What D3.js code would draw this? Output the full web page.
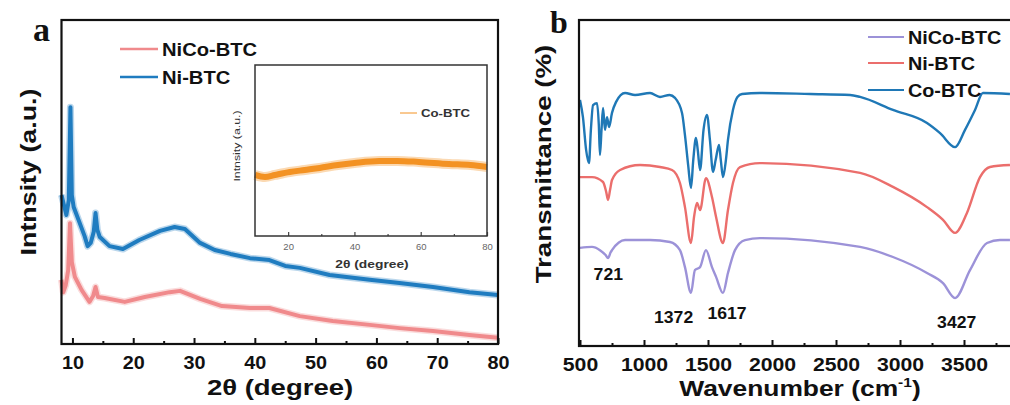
<!DOCTYPE html>
<html><head><meta charset="utf-8">
<script src="https://cdn.jsdelivr.net/npm/d3@7"></script>
<style>
html,body{margin:0;padding:0;background:#fff;}
svg{display:block;}
</style></head>
<body>
<svg id="c" width="1010" height="405" style="font-family:'Liberation Sans',Arial,sans-serif"></svg>
<script>
// ---------- Panel a : XRD ----------
const xrdTicks = [10,20,30,40,50,60,70,80];
const xrdMinor = [15,25,35,45,55,65,75];
const niBTC_xrd = [[8.2,46.0],[8.6,42.9],[9.0,39.8],[9.4,44.4],[9.67,73.1],[9.9,46.0],[10.2,42.3],[11.2,37.3],[12.0,33.3],[12.5,30.2],[13.0,31.2],[13.5,34.6],[13.8,40.4],[14.1,35.2],[14.5,33.0],[16.1,30.2],[18.3,29.3],[21.0,32.1],[24.4,34.9],[26.8,36.1],[28.5,35.5],[31.0,31.2],[33.4,29.0],[36,27.8],[39.2,26.5],[42.4,25.9],[45,24.1],[47.4,23.5],[52.3,21.3],[58.9,19.8],[63.8,18.8],[69.3,17.6],[75.3,16.0],[80,15.1]];
const niCoBTC_xrd = [[8.2,19.8],[8.5,16.0],[8.9,18.2],[9.3,22.8],[9.6,37.3],[9.9,25.3],[10.4,20.7],[11.5,16.7],[12.8,13.0],[13.4,14.8],[13.8,17.6],[14.2,14.5],[15.3,14.2],[18.6,13.0],[21.9,14.5],[26.0,16.0],[27.7,16.4],[31.0,13.9],[34.6,11.7],[39.2,11.1],[42.4,11.1],[47.4,8.6],[52.8,7.1],[58.9,5.9],[63.8,4.9],[69.3,4.0],[75.3,2.8],[80,1.9]];
// inset
const insetTicks = [20,40,60,80];
const insetMinor = [30,50,70];
const coBTC_xrd = [[10,35.7],[13,34.5],[16,35.7],[20.5,37.4],[25,38.6],[29.5,39.8],[35,41.5],[40,42.7],[47.5,43.9],[53,43.9],[59.5,43.3],[68.5,42.1],[75,41.5],[80,40.4]];

// ---------- Panel b : FTIR ----------
const irTicks = [500,1000,1500,2000,2500,3000,3500];
const irMinor = [750,1250,1750,2250,2750,3250,3750];
const coBTC_ir = [[500,75.5],[523,70.2],[548,60.1],[570,56.1],[585,66.3],[602,73.9],[633,74.5],[647,67.8],[656,58.6],[668,66.3],[680,73.0],[695,66.3],[711,70.2],[727,67.2],[750,71.5],[781,74.8],[852,77.6],[930,77.0],[1047,77.6],[1125,76.4],[1200,77.0],[1242,76.1],[1297,71.5],[1320,64.7],[1345,55.5],[1367,48.5],[1385,57.1],[1406,63.8],[1420,60.1],[1438,54.0],[1465,66.3],[1492,70.9],[1515,63.2],[1539,53.4],[1560,57.1],[1586,61.7],[1600,57.1],[1617,51.8],[1640,57.1],[1656,63.2],[1695,72.4],[1730,76.4],[1766,77.3],[1906,77.6],[2300,77.3],[2610,77.0],[2688,76.4],[2945,72.4],[3211,68.4],[3313,65.3],[3430,61.0],[3508,66.3],[3586,72.4],[3648,77.6],[3859,77.3]];
const niBTC_ir = [[500,51.8],[594,51.8],[680,50.3],[705,47.2],[719,44.8],[735,47.9],[750,50.9],[813,54.0],[969,55.5],[1125,54.9],[1219,54.0],[1281,50.0],[1320,42.6],[1367,31.6],[1391,39.6],[1414,43.9],[1438,41.7],[1484,51.5],[1531,45.7],[1563,39.6],[1617,31.6],[1656,41.7],[1695,50.0],[1750,54.9],[1906,56.1],[2688,53.1],[2945,48.8],[3211,42.6],[3336,38.7],[3430,34.7],[3523,40.8],[3625,51.8],[3703,54.9],[3859,55.5]];
const niCoBTC_ir = [[500,30.1],[594,30.4],[656,29.4],[700,27.9],[719,27.0],[740,28.8],[750,29.4],[852,32.5],[1047,32.5],[1203,31.9],[1281,29.4],[1320,24.2],[1367,16.3],[1398,23.3],[1438,24.2],[1484,29.4],[1531,24.2],[1563,21.2],[1617,16.3],[1656,22.4],[1711,29.4],[1789,32.5],[1906,33.1],[2688,30.4],[2945,27.3],[3211,22.4],[3336,19.3],[3430,14.7],[3547,23.3],[3680,31.6],[3781,32.5],[3859,32.5]];
const peakLabels = [{w:721,v:27.0,t:"721",dx:0,dy:22},{w:1372,v:16.3,t:"1372",dx:-18,dy:30},{w:1617,v:16.3,t:"1617",dx:4,dy:26},{w:3427,v:14.7,t:"3427",dx:2,dy:30}];

const C = {pink:"#f08a8c", blueA:"#1f7cc0", orange:"#f39223", blueB:"#1f78b6", red:"#eb6e6c", lav:"#9c92d8"};
const SANS = "'Liberation Sans',Arial,sans-serif";
const SERIF = "'Liberation Serif','Times New Roman',serif";

const svg = d3.select("#c");

function txt(g, x, y, s, o){
  o = o||{};
  const t = g.append("text")
    .attr("transform", `translate(${x},${y}) rotate(${o.rot||0}) scale(${o.sx||1},1)`)
    .attr("text-anchor", o.anchor||"start")
    .attr("font-size", o.size||18)
    .attr("font-weight", o.weight||"bold")
    .attr("fill", o.fill||"#111")
    .style("font-family", o.family||SANS);
  t.text(s);
  return t;
}

// ===== Panel a =====
const xA = d3.scaleLinear().domain([8.2,80]).range([61.5,498]);
const yA = d3.scaleLinear().domain([0,100]).range([344,20]);
const gA = svg.append("g");
const lineA = d3.line().x(d=>xA(d[0])).y(d=>yA(d[1])).curve(d3.curveLinear);

[[niCoBTC_xrd,C.pink],[niBTC_xrd,C.blueA]].forEach(([d,c])=>{
  gA.append("path").datum(d).attr("d",lineA).attr("fill","none").attr("stroke",c).attr("stroke-opacity",0.3).attr("stroke-width",7).attr("stroke-linejoin","round");
  gA.append("path").datum(d).attr("d",lineA).attr("fill","none").attr("stroke",c).attr("stroke-width",4).attr("stroke-linejoin","round");
});

// ticks
gA.append("g").attr("transform",`translate(0,344)`)
  .call(d3.axisBottom(xA).tickValues(xrdTicks).tickFormat(d3.format("d")).tickSizeInner(-6).tickSizeOuter(0).tickPadding(12))
  .call(g=>{g.select(".domain").remove();
    g.selectAll("line").attr("stroke","#111").attr("stroke-width",2);
    g.selectAll("text").attr("font-size",18).attr("font-weight","bold").attr("fill","#111")
      .style("font-family",SANS).attr("transform","scale(1.1,1)");});
gA.append("g").attr("transform",`translate(0,344)`)
  .call(d3.axisBottom(xA).tickValues(xrdMinor).tickSizeInner(-3).tickSizeOuter(0).tickFormat(""))
  .call(g=>{g.select(".domain").remove(); g.selectAll("line").attr("stroke","#111").attr("stroke-width",2);});

gA.append("rect").attr("x",xA.range()[0]).attr("y",yA(100)).attr("width",xA.range()[1]-xA.range()[0]).attr("height",yA(0)-yA(100))
  .attr("fill","none").attr("stroke","#111").attr("stroke-width",2.2);

// legend a
[["NiCo-BTC",C.pink,49],["Ni-BTC",C.blueA,77]].forEach(([n,c,y])=>{
  gA.append("line").attr("x1",120).attr("x2",158).attr("y1",y).attr("y2",y).attr("stroke",c).attr("stroke-width",2.5);
  txt(gA,162,y+6.5,n,{size:18,sx:1.12});
});

// inset
const xI = d3.scaleLinear().domain([10,80]).range([255,487]);
const yI = d3.scaleLinear().domain([0,100]).range([236,65]);
const gI = svg.append("g");
gI.append("rect").attr("x",255).attr("y",65).attr("width",232).attr("height",171).attr("fill","#fff");
const lineI = d3.line().x(d=>xI(d[0])).y(d=>yI(d[1])).curve(d3.curveMonotoneX);
gI.append("path").datum(coBTC_xrd).attr("d",lineI).attr("fill","none").attr("stroke",C.orange).attr("stroke-opacity",0.35).attr("stroke-width",10);
gI.append("path").datum(coBTC_xrd).attr("d",lineI).attr("fill","none").attr("stroke",C.orange).attr("stroke-width",6);
gI.append("g").attr("transform","translate(0,236)")
  .call(d3.axisBottom(xI).tickValues(insetTicks).tickSizeInner(-4).tickSizeOuter(0).tickPadding(7))
  .call(g=>{g.select(".domain").remove();
    g.selectAll("line").attr("stroke","#444").attr("stroke-width",1.2);
    g.selectAll("text").attr("font-size",9.5).attr("fill","#666").style("font-family",SANS);});
gI.append("g").attr("transform","translate(0,236)")
  .call(d3.axisBottom(xI).tickValues(insetMinor).tickSizeInner(-2).tickSizeOuter(0).tickFormat(""))
  .call(g=>{g.select(".domain").remove(); g.selectAll("line").attr("stroke","#444").attr("stroke-width",1.2);});
gI.append("rect").attr("x",255).attr("y",65).attr("width",232).attr("height",171).attr("fill","none").attr("stroke","#333").attr("stroke-width",1.5);
gI.append("line").attr("x1",400).attr("x2",417).attr("y1",113).attr("y2",113).attr("stroke",C.orange).attr("stroke-width",1);
txt(gI,421,117,"Co-BTC",{size:11,sx:1.2,fill:"#333"});
txt(gI,372,268,"2θ (degree)",{size:11.5,sx:1.2,anchor:"middle",fill:"#333"});
txt(gI,240,146,"Intnsity (a.u.)",{size:9.5,sx:1.3,anchor:"middle",rot:-90,fill:"#333",weight:"normal"});

// titles a
txt(gA,280,395,"2θ (degree)",{size:22,sx:1.25,anchor:"middle"});
txt(gA,36,172,"Intnsity (a.u.)",{size:22,sx:1.22,anchor:"middle",rot:-90});
txt(gA,33,41,"a",{size:34,family:SERIF});

// ===== Panel b =====
const xB = d3.scaleLinear().domain([500,4000]).range([580,1028]);
const yB = d3.scaleLinear().domain([0,100]).range([346,20]);
const gB = svg.append("g");
const lineB = d3.line().x(d=>xB(d[0])).y(d=>yB(d[1])).curve(d3.curveMonotoneX);
[[niCoBTC_ir,C.lav],[niBTC_ir,C.red],[coBTC_ir,C.blueB]].forEach(([d,c])=>{
  gB.append("path").datum(d).attr("d",lineB).attr("fill","none").attr("stroke",c).attr("stroke-width",2.4).attr("stroke-linejoin","round");
});
gB.append("g").attr("transform","translate(0,346)")
  .call(d3.axisBottom(xB).tickValues(irTicks).tickFormat(d3.format("d")).tickSizeInner(-6).tickSizeOuter(0).tickPadding(12))
  .call(g=>{g.select(".domain").remove();
    g.selectAll("line").attr("stroke","#111").attr("stroke-width",2);
    g.selectAll("text").attr("font-size",18).attr("font-weight","bold").attr("fill","#111")
      .style("font-family",SANS).attr("transform","scale(1.18,1)");});
gB.append("g").attr("transform","translate(0,346)")
  .call(d3.axisBottom(xB).tickValues(irMinor).tickSizeInner(-3).tickSizeOuter(0).tickFormat(""))
  .call(g=>{g.select(".domain").remove(); g.selectAll("line").attr("stroke","#111").attr("stroke-width",2);});
gB.append("rect").attr("x",579).attr("y",20).attr("width",460).attr("height",326).attr("fill","none").attr("stroke","#111").attr("stroke-width",2.2);

// peak labels
peakLabels.forEach(p=>{
  txt(gB,xB(p.w)+p.dx,yB(p.v)+p.dy,p.t,{size:16,sx:1.1,anchor:"middle"});
});

// legend b
[["NiCo-BTC",C.lav,37],["Ni-BTC",C.red,63],["Co-BTC",C.blueB,90]].forEach(([n,c,y])=>{
  gB.append("line").attr("x1",868).attr("x2",904).attr("y1",y).attr("y2",y).attr("stroke",c).attr("stroke-width",2.2);
  txt(gB,908,y+6.5,n,{size:18,sx:1.1});
});

// titles b
const tb = txt(gB,800,396,"Wavenumber (cm",{size:22,sx:1.2,anchor:"middle"});
tb.append("tspan").attr("font-size",13).attr("dy",-9).text("-1");
tb.append("tspan").attr("dy",9).text(")");
txt(gB,551,164,"Transmittance (%)",{size:22,sx:1.26,anchor:"middle",rot:-90});
txt(gB,550,33,"b",{size:32,family:SERIF});
</script>
</body></html>
